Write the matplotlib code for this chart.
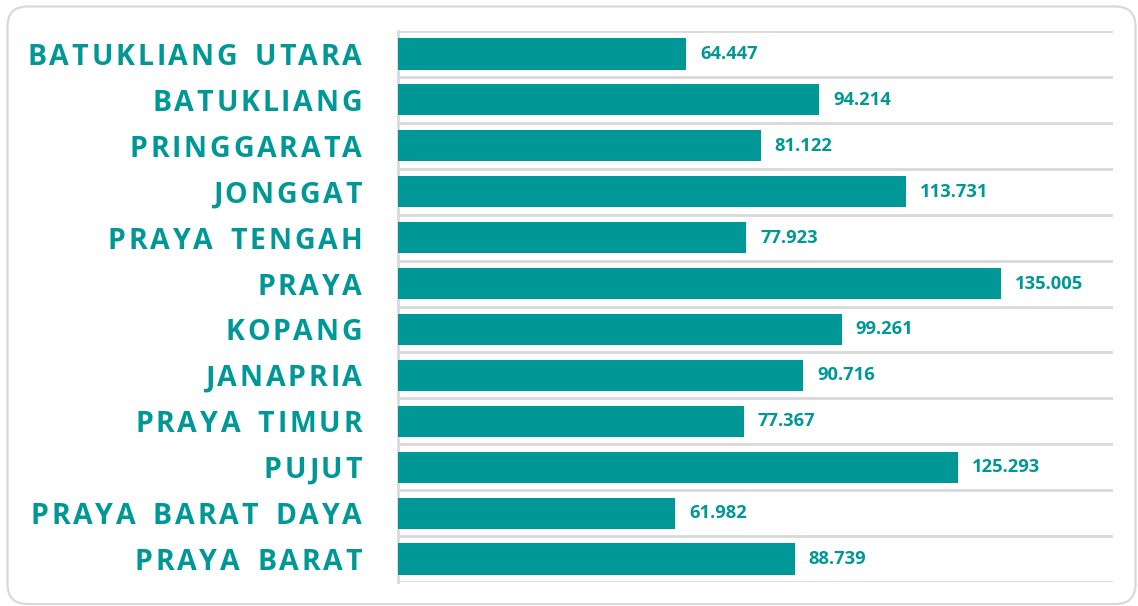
import matplotlib
matplotlib.use("Agg")
from matplotlib import pyplot as plt
from matplotlib import transforms
from matplotlib.patches import FancyBboxPatch
from matplotlib.font_manager import FontProperties

# data, top row first
districts = ["BATUKLIANG UTARA", "BATUKLIANG", "PRINGGARATA", "JONGGAT",
             "PRAYA TENGAH", "PRAYA", "KOPANG", "JANAPRIA", "PRAYA TIMUR",
             "PUJUT", "PRAYA BARAT DAYA", "PRAYA BARAT"]
values = [64.447, 94.214, 81.122, 113.731, 77.923, 135.005, 99.261,
          90.716, 77.367, 125.293, 61.982, 88.739]
value_labels = ["64.447", "94.214", "81.122", "113.731", "77.923", "135.005",
                "99.261", "90.716", "77.367", "125.293", "61.982", "88.739"]

teal = "#009896"
grid_col = "#d9d9d9"
W, H = 1138, 606

fig = plt.figure(figsize=(W / 100, H / 100), dpi=100)
fig.patch.set_facecolor("white")

# rounded frame around everything (pixel coords)
frame = FancyBboxPatch((7.5, 2), 1128, 597.5,
                       boxstyle="round,pad=0,rounding_size=20",
                       transform=transforms.IdentityTransform(), fc="none",
                       ec=grid_col, lw=1.6, clip_on=False)
fig.patches.append(frame)

ax = fig.add_axes([398 / W, 1 - 582 / H, (1113 - 398) / W, (582 - 31) / H])
n = len(districts)
ypos = list(range(n))
ax.barh(ypos, values, height=0.68, color=teal, zorder=3)
ax.set_xlim(0, 160)
ax.set_ylim(n - 0.5, -0.5)

# separator lines between rows
for b in range(n + 1):
    ax.axhline(b - 0.5, color=grid_col, lw=2, zorder=1)
for s in ["top", "right", "bottom"]:
    ax.spines[s].set_visible(False)
ax.spines["left"].set_color(grid_col)
ax.spines["left"].set_linewidth(2)
ax.set_xticks([])
ax.set_yticks([])

for y, v, lab in zip(ypos, values, value_labels):
    ax.annotate(lab, (v, y), xytext=(14, 0), textcoords="offset pixels",
                va="center", ha="left", color=teal, fontsize=13.2,
                fontweight="bold", family="Open Sans")

# category labels with letter spacing, drawn char by char from the right
prop = FontProperties(family="Open Sans", weight="bold", size=20.5)
renderer = fig.canvas.get_renderer()
spacing = 2.8
trans = transforms.blended_transform_factory(fig.transFigure, ax.transData)
for y, name in zip(ypos, districts):
    x = 362.0
    for ch in reversed(name):
        if ch == " ":
            x -= 12 + spacing
            continue
        w, h, d = renderer.get_text_width_height_descent(ch, prop, ismath=False)
        fig.text(x / W, y, ch, transform=trans, ha="right", va="center_baseline",
                 fontproperties=prop, color=teal)
        x -= w + spacing

fig.savefig("out.png", dpi=100, facecolor="white")
